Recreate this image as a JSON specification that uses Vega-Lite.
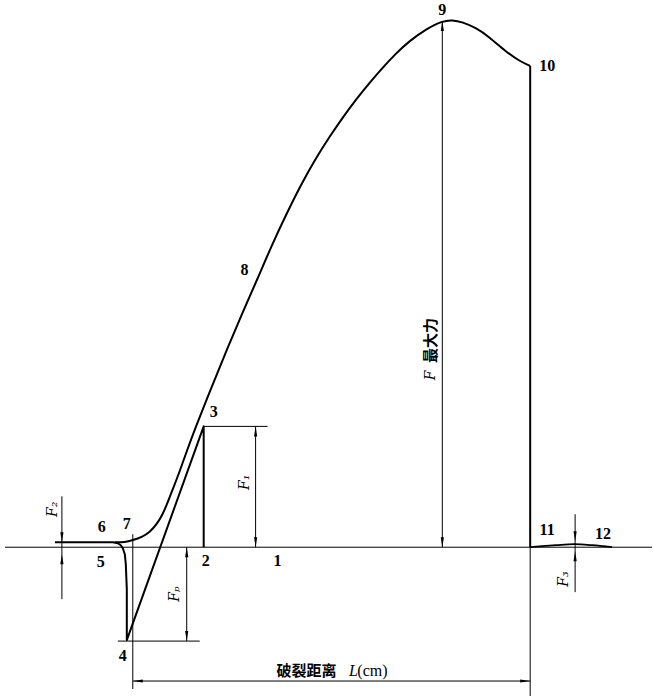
{
  "$schema": "https://vega.github.io/schema/vega-lite/v6.json",
  "width": 653,
  "height": 697,
  "autosize": {"type": "fit", "contains": "padding"},
  "padding": 0,
  "background": "white",
  "config": {"view": {"stroke": null}},
  "datasets": {
    "rise": [
      {"x": 115, "y": 5}, {"x": 125, "y": 5}, {"x": 133, "y": 7}, {"x": 142, "y": 10},
      {"x": 150, "y": 15}, {"x": 157, "y": 23}, {"x": 163, "y": 33}, {"x": 168, "y": 45},
      {"x": 173, "y": 58}, {"x": 180, "y": 76}, {"x": 187, "y": 96}, {"x": 195, "y": 118},
      {"x": 213, "y": 163}, {"x": 228, "y": 200}, {"x": 243, "y": 235}, {"x": 258, "y": 269},
      {"x": 272, "y": 302}, {"x": 287, "y": 334}, {"x": 302, "y": 364}, {"x": 316, "y": 389},
      {"x": 330, "y": 411}, {"x": 343, "y": 430}, {"x": 357, "y": 449}, {"x": 370, "y": 465},
      {"x": 383, "y": 480}, {"x": 396, "y": 494}, {"x": 410, "y": 507}, {"x": 427, "y": 519},
      {"x": 443, "y": 527}, {"x": 453, "y": 528}, {"x": 463, "y": 526}, {"x": 477, "y": 520},
      {"x": 490, "y": 511}, {"x": 507, "y": 496}, {"x": 520, "y": 487}, {"x": 531, "y": 482}
    ],
    "hump": [
      {"x": 531, "y": 0}, {"x": 543, "y": 1}, {"x": 557, "y": 2}, {"x": 575, "y": 3},
      {"x": 593, "y": 2}, {"x": 613, "y": 0}
    ],
    "poly": [
      {"seg": "a", "i": 1, "x": 55, "y": 5}, {"seg": "a", "i": 2, "x": 113, "y": 5},
      {"seg": "a", "i": 3, "x": 118, "y": 4}, {"seg": "a", "i": 4, "x": 121, "y": 2},
      {"seg": "a", "i": 5, "x": 123, "y": -1}, {"seg": "a", "i": 6, "x": 125, "y": -7},
      {"seg": "a", "i": 7, "x": 126, "y": -17}, {"seg": "a", "i": 8, "x": 127, "y": -42},
      {"seg": "a", "i": 9, "x": 127, "y": -93}, {"seg": "a", "i": 10, "x": 204, "y": 121},
      {"seg": "a", "i": 11, "x": 204, "y": 0},
      {"seg": "b", "i": 1, "x": 531, "y": 482}, {"seg": "b", "i": 2, "x": 531, "y": 0}
    ],
    "rules": [
      {"x": 5, "y": 0, "x2": 653, "y2": 0},
      {"x": 204, "y": 121, "x2": 268, "y2": 121},
      {"x": 118, "y": -94, "x2": 200, "y2": -94},
      {"x": 187, "y": 0, "x2": 187, "y2": -94},
      {"x": 256, "y": 121, "x2": 256, "y2": 0},
      {"x": 62, "y": 51, "x2": 62, "y2": -52},
      {"x": 576, "y": 33, "x2": 576, "y2": -45},
      {"x": 443, "y": 527, "x2": 443, "y2": 0},
      {"x": 133, "y": 13, "x2": 133, "y2": -142},
      {"x": 531, "y": 0, "x2": 531, "y2": -149},
      {"x": 133, "y": -134, "x2": 531, "y2": -134}
    ],
    "arrows": [
      {"x": 443, "y": 527, "dir": "up"}, {"x": 443, "y": 0, "dir": "down"},
      {"x": 256, "y": 121, "dir": "up"}, {"x": 256, "y": 0, "dir": "down"},
      {"x": 187, "y": 0, "dir": "up"}, {"x": 187, "y": -94, "dir": "down"},
      {"x": 62, "y": 5, "dir": "down"}, {"x": 62, "y": -7, "dir": "up"},
      {"x": 576, "y": 6, "dir": "down"}, {"x": 576, "y": -4, "dir": "up"},
      {"x": 133, "y": -134, "dir": "left"}, {"x": 531, "y": -134, "dir": "right"}
    ],
    "nums": [
      {"x": 443, "y": 538, "t": "9"}, {"x": 548, "y": 482, "t": "10"},
      {"x": 548, "y": 17, "t": "11"}, {"x": 604, "y": 13, "t": "12"},
      {"x": 245, "y": 278, "t": "8"}, {"x": 214, "y": 135, "t": "3"},
      {"x": 206, "y": -14, "t": "2"}, {"x": 278, "y": -14, "t": "1"},
      {"x": 101, "y": -15, "t": "5"}, {"x": 102, "y": 20, "t": "6"},
      {"x": 127, "y": 23, "t": "7"}, {"x": 123, "y": -109, "t": "4"}
    ],
    "flabels": [
      {"x": 53, "y": 38, "t": "F₂"}, {"x": 175, "y": -47, "t": "Fₚ"},
      {"x": 245, "y": 65, "t": "F₁"}, {"x": 565, "y": -32, "t": "F₃"},
      {"x": 432, "y": 172, "t": "F"}
    ],
    "lletter": [{"x": 354, "y": -124, "t": "L"}],
    "cjkrot": [{"x": 432, "y": 207, "t": "最大力"}],
    "cjk": [{"x": 307, "y": -124, "t": "破裂距离"}],
    "unit": [{"x": 373, "y": -124, "t": "(cm)"}]
  },
  "encoding": {
    "x": {"field": "x", "type": "quantitative", "scale": {"domain": [0, 653], "nice": false, "zero": false}, "axis": null},
    "y": {"field": "y", "type": "quantitative", "scale": {"domain": [-149, 548], "nice": false, "zero": false}, "axis": null}
  },
  "layer": [
    {
      "data": {"name": "rules"},
      "mark": {"type": "rule", "color": "black", "strokeWidth": 1},
      "encoding": {"x2": {"field": "x2"}, "y2": {"field": "y2"}}
    },
    {
      "data": {"name": "rise"},
      "mark": {"type": "line", "color": "black", "strokeWidth": 2, "interpolate": "basis"},
      "encoding": {}
    },
    {
      "data": {"name": "hump"},
      "mark": {"type": "line", "color": "black", "strokeWidth": 1.8, "interpolate": "monotone"},
      "encoding": {}
    },
    {
      "data": {"name": "poly"},
      "mark": {"type": "line", "color": "black", "strokeWidth": 2, "strokeJoin": "round"},
      "encoding": {"detail": {"field": "seg"}, "order": {"field": "i", "type": "quantitative"}}
    },
    {
      "data": {"name": "arrows"},
      "mark": {"type": "point", "filled": true, "color": "black", "opacity": 1, "size": 16},
      "encoding": {
        "shape": {"field": "dir", "type": "nominal", "legend": null,
          "scale": {"domain": ["up", "down", "left", "right"],
            "range": ["M0,0L0.8,5L-0.8,5Z", "M0,0L0.8,-5L-0.8,-5Z", "M0,0L5,0.8L5,-0.8Z", "M0,0L-5,0.8L-5,-0.8Z"]}}
      }
    },
    {
      "data": {"name": "nums"},
      "mark": {"type": "text", "font": "Liberation Serif", "fontSize": 16, "fontWeight": "bold", "color": "black", "align": "center", "baseline": "middle"},
      "encoding": {"text": {"field": "t"}}
    },
    {
      "data": {"name": "flabels"},
      "mark": {"type": "text", "font": "DejaVu Serif", "fontStyle": "italic", "fontSize": 14, "color": "black", "angle": 270, "align": "center", "baseline": "middle"},
      "encoding": {"text": {"field": "t"}}
    },
    {
      "data": {"name": "lletter"},
      "mark": {"type": "text", "font": "Liberation Serif", "fontStyle": "italic", "fontSize": 16, "color": "black", "align": "center", "baseline": "middle"},
      "encoding": {"text": {"field": "t"}}
    },
    {
      "data": {"name": "cjkrot"},
      "mark": {"type": "text", "font": "Noto Sans CJK SC", "fontSize": 15, "fontWeight": "bold", "color": "black", "angle": 270, "align": "center", "baseline": "middle"},
      "encoding": {"text": {"field": "t"}}
    },
    {
      "data": {"name": "cjk"},
      "mark": {"type": "text", "font": "Noto Sans CJK SC", "fontSize": 15, "fontWeight": "bold", "color": "black", "align": "center", "baseline": "middle"},
      "encoding": {"text": {"field": "t"}}
    },
    {
      "data": {"name": "unit"},
      "mark": {"type": "text", "font": "Liberation Serif", "fontSize": 16, "color": "black", "align": "center", "baseline": "middle"},
      "encoding": {"text": {"field": "t"}}
    }
  ]
}
